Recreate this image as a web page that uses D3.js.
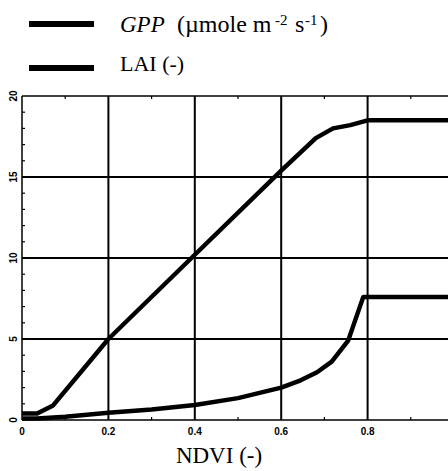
<!DOCTYPE html>
<html>
<head>
<meta charset="utf-8">
<script src="https://cdnjs.cloudflare.com/ajax/libs/d3/7.8.5/d3.min.js"></script>
<style>
  body { margin: 0; background: #fff; }
  svg { display: block; }
</style>
</head>
<body>
<div id="chart"></div>
<script>
// NDVI vs GPP and LAI
const gppData = [[0,0.4],[0.035,0.4],[0.072,0.9],[0.2,5.0],[0.4,10.2],[0.6,15.4],[0.68,17.4],[0.72,18.0],[0.76,18.2],[0.8,18.5],[1,18.5]];
const laiData = [[0,0.1],[0.035,0.1],[0.1,0.2],[0.2,0.45],[0.3,0.65],[0.4,0.92],[0.5,1.35],[0.6,2.0],[0.645,2.45],[0.683,2.95],[0.717,3.6],[0.755,4.9],[0.79,7.6],[1,7.6]];
const xTicks = [0, 0.2, 0.4, 0.6, 0.8];
const xMinor = [0.1, 0.3, 0.5, 0.7, 0.9];
const yTicks = [0, 5, 10, 15, 20];

const W = 448, H = 471;
const SANS = "'Liberation Sans', Arial, sans-serif";
const SERIF = "'Liberation Serif', 'Times New Roman', serif";

const svg = d3.select("#chart").append("svg").attr("width", W).attr("height", H);

const x = d3.scaleLinear().domain([0, 1]).range([22, 454]);
const y = d3.scaleLinear().domain([0, 20]).range([420, 96]);

// grid
svg.append("g").selectAll("line").data([5, 10, 15]).join("line")
  .attr("x1", x(0)).attr("x2", x(1)).attr("y1", d => y(d)).attr("y2", d => y(d))
  .attr("stroke", "#000").attr("stroke-width", 2);
svg.append("g").selectAll("line").data([0.2, 0.4, 0.6, 0.8]).join("line")
  .attr("y1", y(0)).attr("y2", y(20)).attr("x1", d => x(d)).attr("x2", d => x(d))
  .attr("stroke", "#000").attr("stroke-width", 2);

// frame
const frame = svg.append("g").attr("stroke", "#000").attr("stroke-width", 1.5);
frame.append("line").attr("x1", x(0)).attr("x2", x(1)).attr("y1", y(0)).attr("y2", y(0));
frame.append("line").attr("x1", x(0)).attr("x2", x(1)).attr("y1", y(20)).attr("y2", y(20));
frame.append("line").attr("x1", x(0)).attr("x2", x(0)).attr("y1", y(0)).attr("y2", y(20));

// minor ticks
svg.append("g").selectAll("line").data(d3.range(1, 20)).join("line")
  .attr("x1", x(0)).attr("x2", x(0) + 3).attr("y1", d => y(d)).attr("y2", d => y(d))
  .attr("stroke", "#000").attr("stroke-width", 1.2);
svg.append("g").selectAll("line").data(xMinor).join("line")
  .attr("x1", d => x(d)).attr("x2", d => x(d)).attr("y1", y(0)).attr("y2", y(0) - 3)
  .attr("stroke", "#000").attr("stroke-width", 1.2);
svg.append("g").selectAll("line").data(xMinor).join("line")
  .attr("x1", d => x(d)).attr("x2", d => x(d)).attr("y1", y(20)).attr("y2", y(20) + 3)
  .attr("stroke", "#000").attr("stroke-width", 1.2);

// tick labels
svg.append("g").selectAll("text").data(xTicks).join("text")
  .attr("font-family", SANS).attr("font-weight", "bold").attr("font-size", 10)
  .attr("x", d => x(d)).attr("y", 435)
  .attr("text-anchor", "middle")
  .text(d => d === 0 ? "0" : d3.format(".1f")(d));
svg.append("g").selectAll("text").data(yTicks).join("text")
  .attr("font-family", SANS).attr("font-weight", "bold").attr("font-size", 10)
  .attr("transform", d => `translate(17,${y(d)}) rotate(-90)`)
  .attr("text-anchor", "middle")
  .text(d => d);

// curves
const line = d3.line().x(d => x(d[0])).y(d => y(d[1]));
svg.append("path").datum(gppData).attr("d", line)
  .attr("fill", "none").attr("stroke", "#000").attr("stroke-width", 4.5).attr("stroke-linejoin", "round");
svg.append("path").datum(laiData).attr("d", line)
  .attr("fill", "none").attr("stroke", "#000").attr("stroke-width", 4.5).attr("stroke-linejoin", "round");

// x title
svg.append("text").attr("font-family", SERIF)
  .attr("x", 219).attr("y", 463).attr("text-anchor", "middle")
  .attr("font-size", 23).text("NDVI (-)");

// legend
svg.append("line").attr("x1", 29).attr("x2", 94).attr("y1", 24).attr("y2", 24)
  .attr("stroke", "#000").attr("stroke-width", 6);
svg.append("line").attr("x1", 29).attr("x2", 94).attr("y1", 68).attr("y2", 68)
  .attr("stroke", "#000").attr("stroke-width", 6);

const t1 = svg.append("text").attr("font-family", SERIF).attr("y", 32).attr("font-size", 23);
t1.append("tspan").attr("x", 120).attr("font-style", "italic").text("GPP");
t1.append("tspan").attr("x", 177).attr("font-size", 24).text("(\u00b5mole m");
t1.append("tspan").attr("x", 275).attr("y", 25).attr("font-size", 15).text("-2");
t1.append("tspan").attr("x", 295).attr("y", 32).attr("font-size", 24).text("s");
t1.append("tspan").attr("x", 305).attr("y", 25).attr("font-size", 15).text("-1");
t1.append("tspan").attr("x", 320).attr("y", 32).attr("font-size", 24).text(")");

svg.append("text").attr("font-family", SERIF).attr("x", 120).attr("y", 71).attr("font-size", 22).text("LAI (-)");
</script>
</body>
</html>
